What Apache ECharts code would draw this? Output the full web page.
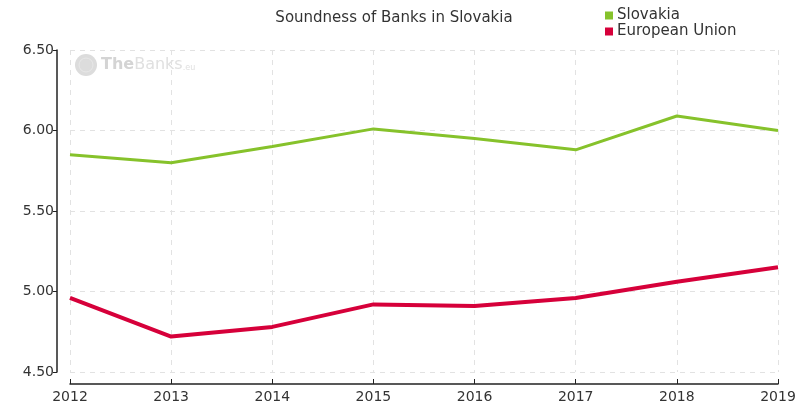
<!DOCTYPE html>
<html>
<head>
<meta charset="utf-8">
<script src="https://cdn.jsdelivr.net/npm/echarts@6/dist/echarts.min.js"></script>
<style>
html, body { margin: 0; padding: 0; background: #fff; }
#main { width: 810px; height: 404px; }
</style>
</head>
<body>
<div id="main"></div>
<script>
var years = ['2012', '2013', '2014', '2015', '2016', '2017', '2018', '2019'];
var slovakia = [5.85, 5.80, 5.90, 6.01, 5.95, 5.88, 6.09, 6.00];
var eu = [4.96, 4.72, 4.78, 4.92, 4.91, 4.96, 5.06, 5.15];

var font = 'DejaVu Sans, Verdana, sans-serif';

var option = {
    animation: false,
    title: {
        text: 'Soundness of Banks in Slovakia',
        left: 389,
        textAlign: 'center',
        top: 6,
        textStyle: { fontFamily: font, fontSize: 15, fontWeight: 'normal', color: '#333' }
    },
    legend: {
        orient: 'vertical',
        left: 600,
        top: 3,
        itemWidth: 8,
        itemHeight: 8,
        itemGap: 1,
        icon: 'rect',
        textStyle: { fontFamily: font, fontSize: 15, lineHeight: 15, color: '#333', padding: [0, 0, 0, -1] },
        data: ['Slovakia', 'European Union']
    },
    grid: { left: 70, right: 32, top: 50, bottom: 32 },
    xAxis: {
        type: 'category',
        boundaryGap: false,
        data: years,
        offset: 12,
        axisLine: { lineStyle: { color: '#222', width: 1.5 } },
        axisTick: { inside: true, length: 5, lineStyle: { color: '#222' } },
        axisLabel: { fontFamily: font, fontSize: 14, color: '#333', margin: 6 },
        splitLine: { show: true, lineStyle: { color: '#e2e2e2', type: [5, 5] } }
    },
    yAxis: {
        type: 'value',
        min: 4.5,
        max: 6.5,
        interval: 0.5,
        offset: 13,
        axisLine: { show: true, lineStyle: { color: '#222', width: 1.5 } },
        axisTick: { show: true, length: 4, lineStyle: { color: '#222' } },
        axisLabel: {
            fontFamily: font, fontSize: 14, color: '#333', margin: 3,
            formatter: function (v) { return v.toFixed(2); }
        },
        splitLine: { show: true, lineStyle: { color: '#e2e2e2', type: [5, 5] } }
    },
    graphic: [{
        type: 'group',
        left: 75,
        top: 54,
        children: [{
            type: 'circle',
            shape: { cx: 11, cy: 11, r: 11 },
            style: { fill: '#dcdcdc' }
        }, {
            type: 'circle',
            shape: { cx: 11, cy: 11, r: 7 },
            style: { fill: 'none', stroke: '#e8e8e8', lineWidth: 1 }
        }, {
            type: 'text',
            left: 26,
            top: 3,
            style: {
                text: '{a|The}{b|Banks}{c|.eu}',
                rich: {
                    a: { font: 'bold 16px ' + font, fill: '#d4d4d4' },
                    b: { font: '16px ' + font, fill: '#e0e0e0' },
                    c: { font: '8px ' + font, fill: '#e0e0e0', padding: [6, 0, 0, 0] }
                }
            }
        }]
    }],
    series: [{
        name: 'Slovakia',
        type: 'line',
        data: slovakia,
        symbol: 'none',
        itemStyle: { color: '#86c22b' },
        lineStyle: { color: '#86c22b', width: 3 }
    }, {
        name: 'European Union',
        type: 'line',
        data: eu,
        symbol: 'none',
        itemStyle: { color: '#d6003a' },
        lineStyle: { color: '#d6003a', width: 4 }
    }]
};

var myChart = echarts.init(document.getElementById('main'));
myChart.setOption(option);
</script>
</body>
</html>
